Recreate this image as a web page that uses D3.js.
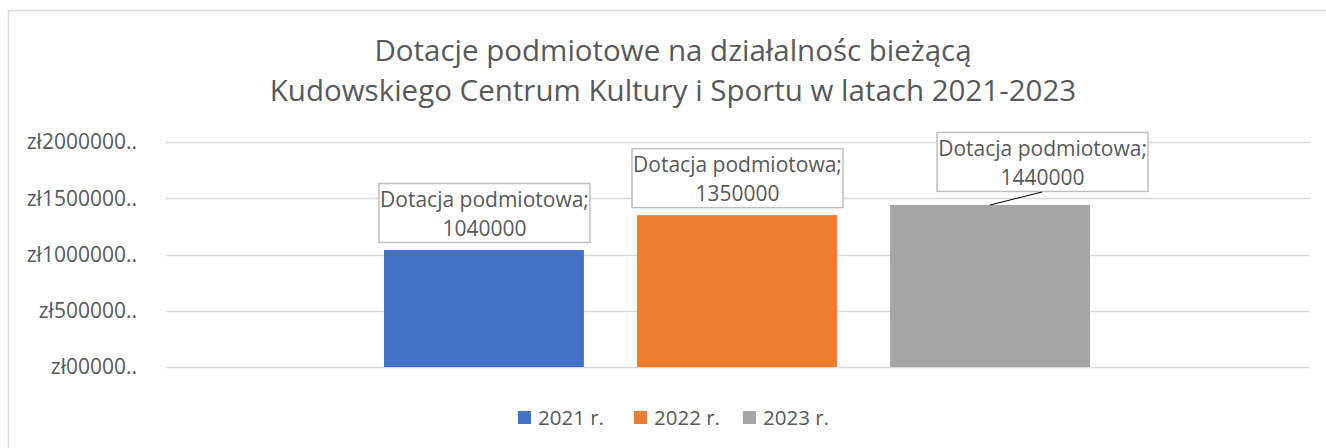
<!DOCTYPE html>
<html>
<head>
<meta charset="utf-8">
<script src="https://cdn.jsdelivr.net/npm/d3@7"></script>
<style>
  body { margin: 0; background: #fff; }
  text { font-family: "Open Sans", "Noto Sans", sans-serif; fill: #595959; }
</style>
</head>
<body>
<div id="chart"></div>
<script>
var years = ["2021 r.", "2022 r.", "2023 r."];
var values = [1040000, 1350000, 1440000];
var seriesName = "Dotacja podmiotowa";
var colors = ["#4472C4", "#ED7D31", "#A5A5A5"];
var yTicks = [0, 500000, 1000000, 1500000, 2000000];
var yTickLabels = ["zł00000..", "zł500000..", "zł1000000..", "zł1500000..", "zł2000000.."];
var titleLines = ["Dotacje podmiotowe na działalnośc bieżącą",
                  "Kudowskiego Centrum Kultury i Sportu w latach 2021-2023"];

function init(){
    var w = 1326;
    var h = 448;

    var svg = d3.select("#chart")
                .append("svg")
                .attr("width", w)
                .attr("height", h);

    // chart area border (runs off the right / bottom edge)
    svg.append("rect")
        .attr("x", 8.5).attr("y", 10.5)
        .attr("width", 1340).attr("height", 460)
        .attr("fill", "none")
        .attr("stroke", "#d9d9d9")
        .attr("stroke-width", 1.5);

    var y = d3.scaleLinear()
              .domain([0, 2000000])
              .range([367, 142]);

    var x = d3.scaleBand()
              .domain(years)
              .range([384, 1090])
              .paddingInner(0.21);

    // gridlines
    svg.selectAll("line.grid")
        .data(yTicks)
        .enter()
        .append("line")
        .attr("class", "grid")
        .attr("x1", 166).attr("x2", 1310)
        .attr("y1", function(d){ return Math.round(y(d)) + 0.5; })
        .attr("y2", function(d){ return Math.round(y(d)) + 0.5; })
        .attr("stroke", "#d9d9d9")
        .attr("stroke-width", 1.3);

    // y axis labels
    svg.selectAll("text.ytick")
        .data(yTicks)
        .enter()
        .append("text")
        .attr("class", "ytick")
        .attr("x", 137)
        .attr("y", function(d){ return y(d); })
        .attr("dy", "0.35em")
        .attr("text-anchor", "end")
        .style("font-size", "21px")
        .text(function(d, i){ return yTickLabels[i]; });

    // bars
    svg.selectAll("rect.bar")
        .data(values)
        .enter()
        .append("rect")
        .attr("class", "bar")
        .attr("x", function(d, i){ return x(years[i]); })
        .attr("y", function(d){ return y(d); })
        .attr("width", x.bandwidth())
        .attr("height", function(d){ return y(0) - y(d); })
        .attr("fill", function(d, i){ return colors[i]; });

    // data labels
    var boxW = 211, boxH = 59;
    var nudge = [[0, 0], [0, 0], [52, -6]];  // last label was dragged aside in the original
    var labels = svg.selectAll("g.lab")
        .data(values)
        .enter()
        .append("g")
        .attr("class", "lab")
        .attr("transform", function(d, i){
            var cx = x(years[i]) + x.bandwidth() / 2 + nudge[i][0];
            var top = y(d) - 8 - boxH + nudge[i][1];
            return "translate(" + (cx - boxW / 2) + "," + top + ")";
        });

    // leader line for nudged label
    values.forEach(function(d, i){
        if (nudge[i][0] !== 0) {
            var cx = x(years[i]) + x.bandwidth() / 2;
            svg.append("line")
                .attr("x1", cx).attr("y1", y(d))
                .attr("x2", cx + nudge[i][0]).attr("y2", y(d) - 8 + nudge[i][1] + 1)
                .attr("stroke", "#000")
                .attr("stroke-width", 1);
        }
    });

    labels.append("rect")
        .attr("x", 0.5).attr("y", 0.5)
        .attr("width", boxW).attr("height", boxH)
        .attr("fill", "#fff")
        .attr("stroke", "#bfbfbf")
        .attr("stroke-width", 1.5);

    labels.append("text")
        .attr("x", boxW / 2 + 0.5)
        .attr("y", 24)
        .attr("text-anchor", "middle")
        .style("font-size", "21px")
        .text(seriesName + ";");

    labels.append("text")
        .attr("x", boxW / 2 + 0.5)
        .attr("y", 53)
        .attr("text-anchor", "middle")
        .style("font-size", "21px")
        .text(function(d){ return d; });

    // title
    svg.selectAll("text.title")
        .data(titleLines)
        .enter()
        .append("text")
        .attr("class", "title")
        .attr("x", 673)
        .attr("y", function(d, i){ return 61 + i * 40; })
        .attr("text-anchor", "middle")
        .style("font-size", "29.5px")
        .text(function(d){ return d; });

    // legend
    var legendX = [518, 634, 743];
    var legend = svg.selectAll("g.leg")
        .data(years)
        .enter()
        .append("g")
        .attr("class", "leg")
        .attr("transform", function(d, i){ return "translate(" + legendX[i] + ",411)"; });

    legend.append("rect")
        .attr("width", 13).attr("height", 13)
        .attr("fill", function(d, i){ return colors[i]; });

    legend.append("text")
        .attr("x", 20)
        .attr("y", 6.5)
        .attr("dy", "0.35em")
        .style("font-size", "20.5px")
        .text(function(d){ return d; });
}

window.onload = init;
</script>
</body>
</html>
